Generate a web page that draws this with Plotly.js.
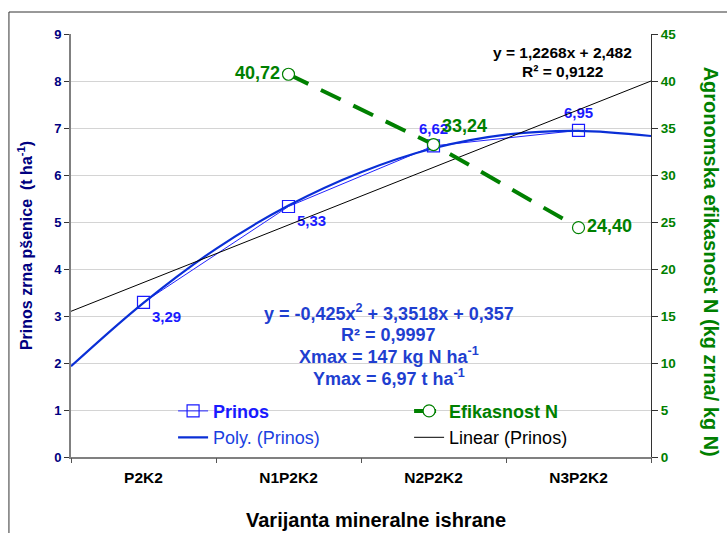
<!DOCTYPE html>
<html>
<head>
<meta charset="utf-8">
<script src="https://cdn.plot.ly/plotly-3.0.1.min.js"></script>
<style>html,body{margin:0;padding:0;background:#fff;}#chart{width:727px;height:533px;}</style>
</head>
<body>
<div id="chart"></div>
<script>
// Data
const categories = ['P2K2', 'N1P2K2', 'N2P2K2', 'N3P2K2'];
const catPos = [1, 2, 3, 4];
const prinos = [3.29, 5.33, 6.62, 6.95];
const prinosLabels = ['3,29', '5,33', '6,62', '6,95'];
const efikPos = [2, 3, 4];
const efikasnost = [40.72, 33.24, 24.40];
const efikLabels = ['40,72', '33,24', '24,40'];
// Trendlines
const polyX = [0.5, 1, 1.5, 2, 2.5, 3, 3.5, 4, 4.5];
const polyY = [1.93, 3.28, 4.43, 5.35, 6.06, 6.57, 6.86, 6.94, 6.83];
const linX = [0.5, 4.5];
const linY = [3.10, 8.00];
const boundaries = [0.5, 1.5, 2.5, 3.5, 4.5];
const yTicks = [0, 1, 2, 3, 4, 5, 6, 7, 8, 9];
const y2Ticks = [0, 5, 10, 15, 20, 25, 30, 35, 40, 45];
const polyEq = ['y = -0,425x<sup>2</sup> + 3,3518x + 0,357', 'R² = 0,9997',
                'Xmax = 147 kg N ha<sup>-1</sup>', 'Ymax = 6,97 t ha<sup>-1</sup>'];
const linEq = ['y = 1,2268x + 2,482', 'R² = 0,9122'];
const xTitle = 'Varijanta mineralne ishrane';
const y2Title = 'Agronomska efikasnost N (kg zrna/ kg N)';

const F = 'Liberation Sans, Arial, sans-serif';

const traces = [
  {
    x: catPos, y: prinos, type: 'scatter', mode: 'lines+markers+text',
    name: '<b><span style="color:#1a1aff">Prinos</span></b>',
    line: {color: '#2222ff', width: 1},
    marker: {symbol: 'square-open', size: 12, color: '#1a1aff', line: {width: 1.2}},
    text: prinosLabels.map(s => '<b>' + s + '</b>'),
    textposition: ['bottom right', 'bottom right', 'top center', 'top center'],
    textfont: {family: F, size: 15, color: '#1a1aff'},
    cliponaxis: false
  },
  {
    x: efikPos, y: efikasnost, type: 'scatter', mode: 'lines+markers+text', yaxis: 'y2',
    name: '<b><span style="color:#008000">Efikasnost N</span></b>',
    line: {color: '#008000', width: 4, dash: '22px,14px'},
    marker: {symbol: 'circle', size: 12, color: '#ffffff', line: {color: '#008000', width: 1.2}},
    text: efikLabels.map(s => '<b>' + s + '</b>'),
    textposition: ['middle left', 'top right', 'middle right'],
    textfont: {family: F, size: 18, color: '#008000'},
    cliponaxis: false
  },
  {
    x: polyX, y: polyY, type: 'scatter', mode: 'lines',
    name: '<span style="color:#1a3fe0">Poly. (Prinos)</span>',
    line: {color: '#0a2fd6', width: 2.2, shape: 'spline'}
  },
  {
    x: linX, y: linY, type: 'scatter', mode: 'lines',
    name: 'Linear (Prinos)',
    line: {color: '#000000', width: 1}
  },
  {
    x: boundaries, y: boundaries.map(() => null), xaxis: 'x2', type: 'scatter',
    mode: 'lines', showlegend: false, hoverinfo: 'skip'
  }
];

const annotations = [];
const polyY_paper = [0.341, 0.289, 0.241, 0.188];
polyEq.forEach((t, i) => annotations.push({
  xref: 'paper', yref: 'paper', x: 0.548, y: polyY_paper[i], xanchor: 'center', yanchor: 'middle',
  text: '<b>' + t + '</b>', showarrow: false, font: {family: F, size: 18, color: '#1f3fd0'}
}));
const linY_paper = [0.956, 0.911];
linEq.forEach((t, i) => annotations.push({
  xref: 'paper', yref: 'paper', x: 0.847, y: linY_paper[i], xanchor: 'center', yanchor: 'middle',
  text: '<b>' + t + '</b>', showarrow: false, font: {family: F, size: 15.5, color: '#000'}
}));
annotations.push({
  xref: 'paper', yref: 'paper', x: 0.526, y: -0.148, xanchor: 'center', yanchor: 'middle',
  text: '<b>' + xTitle + '</b>', showarrow: false, font: {family: F, size: 20, color: '#000'}
});
annotations.push({
  xref: 'paper', yref: 'paper', x: 1.105, y: 0.462, xanchor: 'center', yanchor: 'middle',
  textangle: 90, text: '<b>' + y2Title + '</b>', showarrow: false,
  font: {family: F, size: 20, color: '#008000'}
});

const layout = {
  width: 727, height: 533,
  margin: {l: 71, r: 76, t: 34, b: 76},
  paper_bgcolor: '#ffffff', plot_bgcolor: '#ffffff',
  font: {family: F},
  showlegend: true,
  legend: {
    orientation: 'h', x: 0.176, y: 0.152, xanchor: 'left', yanchor: 'top',
    entrywidth: 191, entrywidthmode: 'pixels',
    bgcolor: 'rgba(0,0,0,0)', font: {family: F, size: 18, color: '#000'},
    tracegroupgap: 0, itemwidth: 30
  },
  xaxis: {
    range: [0.5, 4.5], tickvals: catPos, ticktext: categories.map(s => '<b>' + s + '</b>'),
    ticks: '', showgrid: false, zeroline: false, ticklabelstandoff: 5,
    showline: true, linecolor: '#808080', linewidth: 2,
    tickfont: {family: F, size: 15.5, color: '#000'}
  },
  xaxis2: {
    overlaying: 'x', range: [0.5, 4.5], tickvals: boundaries, ticks: 'outside',
    ticklen: 5, tickcolor: '#555', showticklabels: false, showgrid: false,
    zeroline: false, side: 'bottom', anchor: 'y'
  },
  yaxis: {
    range: [0, 9], tickvals: yTicks, ticks: 'outside', ticklen: 5, tickcolor: '#333',
    showgrid: true, gridcolor: '#d4d4d4', gridwidth: 1, zeroline: false,
    showline: true, linecolor: '#808080', linewidth: 2,
    tickfont: {family: F, size: 13, color: '#000080', weight: 'bold'},
    title: {text: '<b>Prinos zrna pšenice  (t ha<sup>-1</sup>)</b>', font: {family: F, size: 16, color: '#000080'}, standoff: 18}
  },
  yaxis2: {
    overlaying: 'y', side: 'right', range: [0, 45], tickvals: y2Ticks,
    ticks: 'outside', ticklen: 6, tickcolor: '#333', showgrid: false, zeroline: false,
    showline: true, linecolor: '#333', linewidth: 1,
    tickfont: {family: F, size: 13.5, color: '#008000', weight: 'bold'}
  },
  annotations: annotations,
  shapes: [
    {type: 'line', xref: 'paper', yref: 'paper', x0: -0.107, x1: 1.145, y0: 1.052, y1: 1.052, line: {color: '#333', width: 1}},
    {type: 'line', xref: 'paper', yref: 'paper', x0: -0.107, x1: -0.107, y0: 1.052, y1: -0.2, line: {color: '#333', width: 1}}
  ]
};

Plotly.newPlot('chart', traces, layout, {displayModeBar: false, staticPlot: true});
</script>
</body>
</html>
